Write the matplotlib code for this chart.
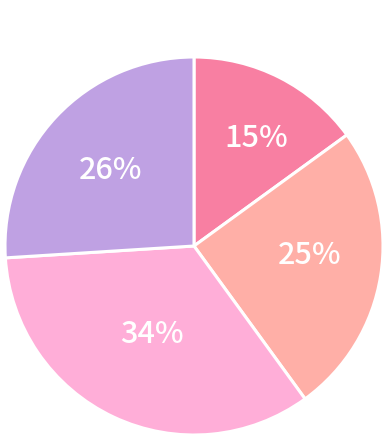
import numpy as np
import matplotlib
matplotlib.use("Agg")
import matplotlib.pyplot as plt

valores = [15, 25, 34, 26]
rotulos = ['15%', '25%', '34%', '26%']
cores = ['#F87FA2', '#FFAFA7', '#FFAED8', '#BFA1E3']
# posicao de cada rotulo: distancia (fracao do raio) e desvio angular (graus)
dist_rotulo = [0.67, 0.615, 0.505, 0.605]
desvio_ang = [-2.2, 5.5, -0.8, 0.3]

plt.rcParams['font.family'] = ['Noto Sans CJK JP', 'DejaVu Sans']

fig = plt.figure(figsize=(3.85, 4.38), dpi=100)
ax = fig.add_axes([5/385, 3/438, 378/385, 378/438])

fatias, _ = ax.pie(valores, colors=cores, startangle=90, counterclock=False,
                   radius=1.0,
                   wedgeprops=dict(edgecolor='white', linewidth=2.2))

for f, txt, d, da in zip(fatias, rotulos, dist_rotulo, desvio_ang):
    ang = np.deg2rad((f.theta1 + f.theta2) / 2 + da)
    ax.text(d*np.cos(ang), d*np.sin(ang) - 0.015, txt, ha='center', va='center',
            color='white', fontsize=22, fontweight='medium')

ax.set_xlim(-1, 1)
ax.set_ylim(-1, 1)
ax.set_aspect('equal')
ax.axis('off')

fig.savefig('out.png', dpi=100)
